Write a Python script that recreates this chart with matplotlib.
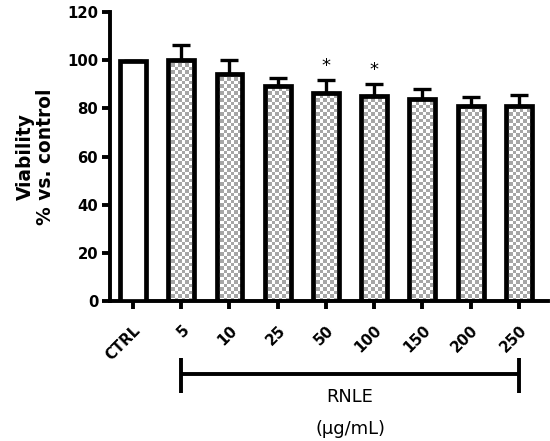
import numpy as np
import matplotlib
matplotlib.use("Agg")
import matplotlib.pyplot as plt
from matplotlib.colors import ListedColormap

plt.rcParams['font.family'] = ['DejaVu Sans']

# data
groups = ["CTRL", "5", "10", "25", "50", "100", "150", "200", "250"]
viability = [99.5, 100.0, 94.5, 89.2, 86.3, 85.1, 84.0, 81.2, 81.2]
sem = [0.4, 6.5, 5.5, 3.5, 5.4, 5.1, 3.9, 3.4, 4.3]
signif = ["", "", "", "", "*", "*", "", "", ""]
patterned = [False, True, True, True, True, True, True, True, True]

fig = plt.figure(figsize=(5.5, 4.41), dpi=100)
ax = fig.add_axes([0.2, 0.3175, 0.796, 0.655])

x = np.arange(len(groups))
w = 0.537

bars = ax.bar(x, viability, width=w, facecolor="white", edgecolor="black",
              linewidth=3.4, zorder=3)

# grey/white checkerboard inside the treated bars
nx, ny = 8, 90
cb = (np.add.outer(np.arange(ny), np.arange(nx)) % 2).astype(float)
for b, p in zip(bars, patterned):
    if not p:
        continue
    b.set_facecolor("none")
    x0 = b.get_x()
    im = ax.imshow(cb, cmap=ListedColormap(["#a6a6a6", "white"]),
                   extent=[x0, x0 + nx * 0.072, 0, ny * 1.45],
                   origin="lower", interpolation="nearest", aspect="auto", zorder=2)
    im.set_clip_path(b)

ax.errorbar(x, viability, yerr=[np.zeros(len(sem)), sem], fmt="none",
            ecolor="black", elinewidth=2.4, capsize=6.5, capthick=2.4, zorder=2.5)

for xi, v, e, s in zip(x, viability, sem, signif):
    if s:
        ax.text(xi, v + e + 2, s, ha="center", va="bottom", fontsize=13)

ax.set_xlim(-0.477, 8.6)
ax.set_ylim(0, 120)
ax.set_yticks(range(0, 121, 20))
ax.set_xticks(x)
ax.set_xticklabels(groups, rotation=45, ha="right", rotation_mode="anchor",
                   fontsize=10.7, fontweight="bold")
for t in ax.get_yticklabels():
    t.set_fontsize(10.7)
    t.set_fontweight("bold")
ax.tick_params(width=2.8, length=5.5, pad=3)
ax.tick_params(axis="x", pad=10)
for side in ["top", "right"]:
    ax.spines[side].set_visible(False)
for side in ["left", "bottom"]:
    ax.spines[side].set_linewidth(2.8)

ax.set_ylabel("Viability\n% vs. control", fontsize=13.4, fontweight="bold",
              linespacing=1.06, labelpad=9)

# bracket for the RNLE concentrations
tr = ax.get_xaxis_transform()
ax.plot([1, 8], [-0.2526, -0.2526], color="black", lw=2.8, transform=tr,
        clip_on=False, solid_capstyle="butt")
for xe in [1, 8]:
    ax.plot([xe, xe], [-0.197, -0.318], color="black", lw=2.8, transform=tr,
            clip_on=False, solid_capstyle="butt")
ax.text(4.5, -0.332, "RNLE", transform=tr, ha="center", va="center", fontsize=12.9)
ax.text(4.5, -0.443, "(\u00b5g/mL)", transform=tr, ha="center", va="center",
        fontsize=12.9)

fig.savefig("out.png", dpi=100)
